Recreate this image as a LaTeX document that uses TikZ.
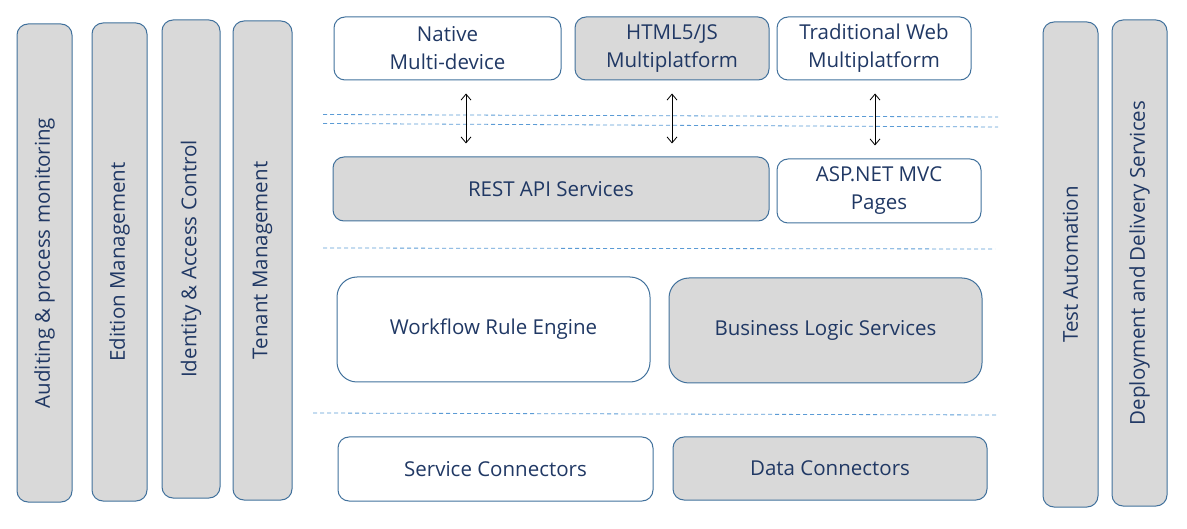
\documentclass[tikz,border=0pt]{standalone}
\usepackage{fontspec}
\setmainfont{Open Sans}
\usetikzlibrary{arrows.meta}

\definecolor{ink}{HTML}{203864}
\definecolor{boxline}{HTML}{41719C}
\definecolor{boxfill}{HTML}{D9D9D9}
\definecolor{sepline}{HTML}{5B9BD5}

\begin{document}
\begin{tikzpicture}
        [x=1pt, y=-1pt,
        box/.style={draw=boxline, line width=1pt, rounded corners=11pt, text=ink,
            align=center, inner sep=0pt, font=\fontsize{20.5}{28}\selectfont},
        grey/.style={box, fill=boxfill},
        pillar/.style={grey, rotate=90, minimum height=55pt},
        sep/.style={sepline, line width=0.8pt, dash pattern=on 4pt off 3pt},
        updown/.style={{Straight Barb[length=6pt,width=10pt]}-{Straight Barb[length=6pt,width=10pt]},
            line width=0.8pt, black, shorten <=13pt, shorten >=13pt}]

        \useasboundingbox (0,0) rectangle (1187,529);

        % Cross-cutting columns on the left
        \node[pillar, minimum width=478pt] (audit) at (44.5,263) {Auditing \& process monitoring};
        \node[pillar, minimum width=478pt] (edition) at (119.5,262) {Edition Management};
        \node[pillar, minimum width=478pt, minimum height=58pt] (identity) at (191,259) {Identity \& Access Control};
        \node[pillar, minimum width=479pt, minimum height=59pt] (tenant) at (262.5,260.5) {Tenant Management};

        % Cross-cutting columns on the right
        \node[pillar, minimum width=485pt] (testauto) at (1070.5,264.5) {Test Automation};
        \node[pillar, minimum width=486pt] (deploy) at (1139.5,263) {Deployment and Delivery Services};

        % Client tier
        \node[box, minimum width=227pt, minimum height=63pt] (native) at (447.5,48.5) {Native\\Multi-device};
        \node[grey, minimum width=194pt, minimum height=63pt] (html) at (672,48.5) {HTML5/JS\\Multiplatform};
        \node[box, minimum width=194pt, minimum height=63pt] (trad) at (874,48.5) {Traditional Web\\Multiplatform};

        % Service tier
        \node[grey, minimum width=436pt, minimum height=64pt] (rest) at (551,189) {REST API Services};
        \node[box, minimum width=204pt, minimum height=64pt] (asp) at (879,191) {ASP.NET MVC\\Pages};

        % Logic tier
        \node[box, minimum width=313pt, minimum height=105pt, rounded corners=20pt] (workflow) at (493.5,329.5) {Workflow Rule Engine};
        \node[grey, minimum width=313pt, minimum height=105pt, rounded corners=20pt] (logic) at (825.5,330.5) {Business Logic Services};

        % Connector tier
        \node[box, minimum width=315pt, minimum height=64pt] (svcconn) at (495.5,469) {Service Connectors};
        \node[grey, minimum width=314pt, minimum height=63pt] (dataconn) at (830,468.5) {Data Connectors};

        % Tier separators
        \draw[sep] (323,114.5) -- (998,117);
        \draw[sep] (323,123.5) -- (998,127);
        \draw[sep] (323,248) -- (995,249);
        \draw[sep] (313,413) -- (997,415);

        % Client to service links
        \draw[updown] ([xshift=18.5pt]native.south) -- ([xshift=18.5pt]native.south |- rest.north);
        \draw[updown] (html.south) -- (html.south |- rest.north);
        \draw[updown] ([xshift=1pt]trad.south) -- ([xshift=1pt]trad.south |- asp.north);

    \end{tikzpicture}
\end{document}
